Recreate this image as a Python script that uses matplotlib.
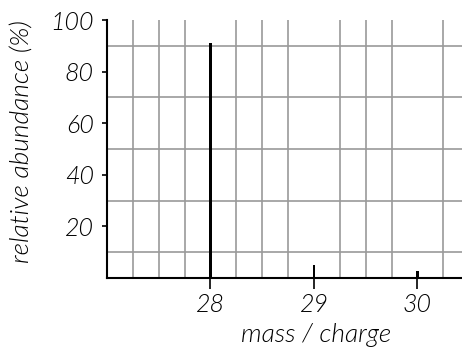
import matplotlib
matplotlib.use("Agg")
import matplotlib.pyplot as plt
import numpy as np

# mass spectrum values
mass = [28, 29, 30]
abundance = [91, 5, 2.7]
xticks = [28, 29, 30]
yticks = [20, 40, 60, 80, 100]

plt.rcParams["font.family"] = ["Lato", "DejaVu Sans"]
plt.rcParams["font.style"] = "italic"
plt.rcParams["font.weight"] = 300

fig = plt.figure(figsize=(4.62, 3.48), dpi=100)
ax = fig.add_axes([107 / 462, 70 / 348, 1 - 107 / 462, 258 / 348])

ax.set_xlim(27, 30.43)
ax.set_ylim(0, 100)

# grid every 0.25 in x and 10 in y
ax.set_xticks(np.arange(27, 30.5, 0.25), minor=True)
ax.set_yticks(np.arange(0, 101, 10), minor=True)
ax.grid(which="minor", color="#9a9a9a", linewidth=1.2, zorder=0)
ax.tick_params(which="minor", length=0)

ax.bar(mass, abundance, width=0.028, color="black", zorder=3)

ax.set_xticks(xticks)
ax.set_yticks(yticks)
ax.tick_params(which="major", direction="out", width=1.2,
               labelsize=18, color="black")
ax.tick_params(axis="x", length=8, pad=3)
ax.tick_params(axis="y", length=3.5, pad=6)
for lab in ax.get_xticklabels() + ax.get_yticklabels():
    lab.set_fontstyle("italic")
    lab.set_fontweight(300)

for s in ["top", "right"]:
    ax.spines[s].set_visible(False)
for s in ["left", "bottom"]:
    ax.spines[s].set_linewidth(1.5)
    ax.spines[s].set_zorder(4)

ax.set_xlabel("mass / charge", fontsize=19, style="italic", weight=300)
ax.set_ylabel("relative abundance (%)", fontsize=19, style="italic", weight=300)
ax.xaxis.set_label_coords(0.589, -0.174)
ax.yaxis.set_label_coords(-0.205, 0.527)

fig.savefig("out.png", dpi=100)
